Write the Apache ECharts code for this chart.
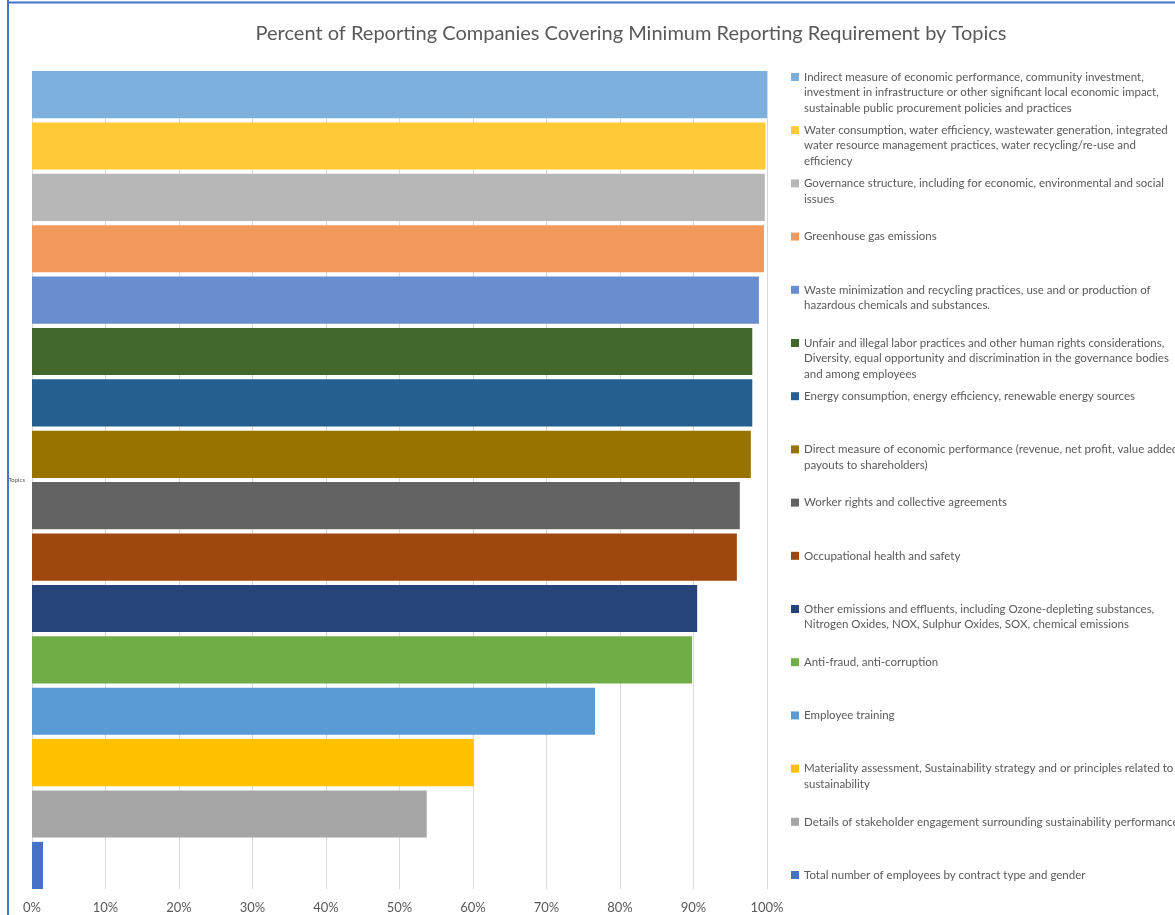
<!DOCTYPE html>
<html>
<head>
<meta charset="utf-8">
<title>Minimum Reporting Requirement by Topics</title>
<script src="https://cdn.jsdelivr.net/npm/echarts@6/dist/echarts.min.js"></script>
<style>
  html, body { margin: 0; padding: 0; background: #fff; }
  #chart { width: 1175px; height: 915px; }
</style>
</head>
<body>
<div id="chart"></div>
<script>
// topics, top to bottom (line breaks as in the legend)
const topics = [
  'Indirect measure of economic performance, community investment,\ninvestment in infrastructure or other significant local economic impact,\nsustainable public procurement policies and practices',
  'Water consumption, water efficiency, wastewater generation, integrated\nwater resource management practices, water recycling/re-use and\nefficiency',
  'Governance structure, including for economic, environmental and social\nissues',
  'Greenhouse gas emissions',
  'Waste minimization and recycling practices, use and or production of\nhazardous chemicals and substances.',
  'Unfair and illegal labor practices and other human rights considerations,\nDiversity, equal opportunity and discrimination in the governance bodies\nand among employees',
  'Energy consumption, energy efficiency, renewable energy sources',
  'Direct measure of economic performance (revenue, net profit, value added,\npayouts to shareholders)',
  'Worker rights and collective agreements',
  'Occupational health and safety',
  'Other emissions and effluents, including Ozone-depleting substances,\nNitrogen Oxides, NOX, Sulphur Oxides, SOX, chemical emissions',
  'Anti-fraud, anti-corruption',
  'Employee training',
  'Materiality assessment, Sustainability strategy and or principles related to\nsustainability',
  'Details of stakeholder engagement surrounding sustainability performance',
  'Total number of employees by contract type and gender'
];

// percent of reporting companies
const percents = [100, 99.8, 99.7, 99.6, 98.9, 98.0, 98.0, 97.8, 96.3, 95.9, 90.5, 89.8, 76.6, 60.1, 53.7, 1.5];

const categories = ['Topics'];

const palette = [
  '#7DAFDD', '#FFCA35', '#B7B7B7', '#F2995C', '#698ED0', '#43682B', '#255E91', '#997300',
  '#636363', '#9E480E', '#264478', '#70AD47', '#5B9BD5', '#FFC000', '#A5A5A5', '#4472C4'
];

const chart = echarts.init(document.getElementById('chart'));

const FONT = 'Lato, "Liberation Sans", sans-serif';
const LINE_H = 15.5;

// legend text is centred on the square, so pad with blank lines
// (2 before, the rest after) to put the square on the first line
function padLines(name) {
  const n = name.split('\n').length;
  return '\n\n' + name + '\n '.repeat(3 - n);
}

// one legend per topic, evenly spaced
const legends = topics.map((name, i) => ({
  orient: 'vertical',
  left: 791,
  top: 77 + i * 53.2 - 2.5 * LINE_H,
  padding: 0,
  icon: 'rect',
  itemWidth: 8,
  itemHeight: 8,
  selectedMode: false,
  data: [name],
  formatter: padLines,
  textStyle: {
    fontFamily: FONT,
    fontSize: 11.5,
    lineHeight: LINE_H,
    color: '#595959'
  }
}));

const option = {
  color: palette,
  animation: false,
  title: {
    text: 'Percent of Reporting Companies Covering Minimum Reporting Requirement by Topics',
    left: 626,
    textAlign: 'center',
    top: 19,
    textStyle: {
      fontFamily: FONT,
      fontSize: 20,
      fontWeight: 'normal',
      color: '#595959'
    }
  },
  legend: legends,
  grid: { left: 32, right: 408, top: 71, bottom: 26 },
  xAxis: {
    type: 'value',
    min: 0,
    max: 100,
    interval: 10,
    axisLine: { show: false },
    axisTick: { show: false },
    splitLine: { lineStyle: { color: '#D9D9D9', width: 1 } },
    axisLabel: {
      formatter: '{value}%',
      margin: 12,
      fontFamily: FONT,
      fontSize: 13,
      color: '#595959'
    }
  },
  yAxis: {
    type: 'category',
    data: categories,
    inverse: true,
    axisLine: { show: false },
    axisTick: { show: false },
    axisLabel: {
      margin: 7,
      fontFamily: FONT,
      fontSize: 6,
      color: '#595959'
    }
  },
  series: topics.map((name, i) => ({
    name: name,
    type: 'bar',
    barGap: '9%',
    barCategoryGap: '0%',
    data: [percents[i]]
  })),
  graphic: [
    { type: 'line', shape: { x1: 8, y1: 0, x2: 8, y2: 915 }, style: { stroke: '#4472C4', lineWidth: 2 } },
    { type: 'line', shape: { x1: 7, y1: 2.5, x2: 1175, y2: 2.5 }, style: { stroke: '#4472C4', lineWidth: 2 } }
  ]
};

chart.setOption(option);
</script>
</body>
</html>
